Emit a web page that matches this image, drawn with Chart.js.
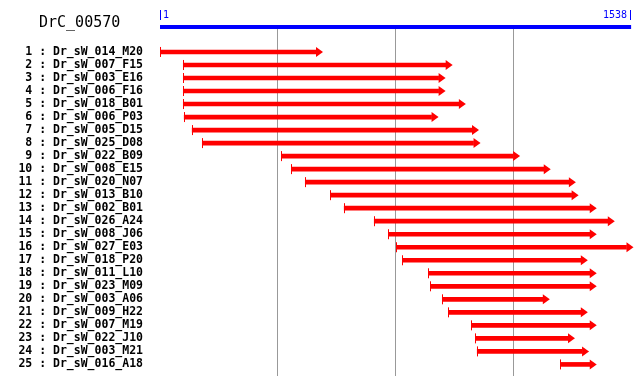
<!DOCTYPE html>
<html>
<head>
<meta charset="utf-8">
<title>DrC_00570</title>
<script src="https://cdn.jsdelivr.net/npm/chart.js@4/dist/chart.umd.min.js"></script>
<style>
  body { margin: 0; background: #fff; }
  canvas { display: block; }
</style>
</head>
<body>
<canvas id="chart" width="640" height="385"></canvas>
<script>
// clone alignments on DrC_00570 (start / end position of each hit)
const title = "DrC_00570";
const rulerStart = 1;
const rulerEnd = 1538;

const clones = [
  "Dr_sW_014_M20", "Dr_sW_007_F15", "Dr_sW_003_E16", "Dr_sW_006_F16", "Dr_sW_018_B01",
  "Dr_sW_006_P03", "Dr_sW_005_D15", "Dr_sW_025_D08", "Dr_sW_022_B09", "Dr_sW_008_E15",
  "Dr_sW_020_N07", "Dr_sW_013_B10", "Dr_sW_002_B01", "Dr_sW_026_A24", "Dr_sW_008_J06",
  "Dr_sW_027_E03", "Dr_sW_018_P20", "Dr_sW_011_L10", "Dr_sW_023_M09", "Dr_sW_003_A06",
  "Dr_sW_009_H22", "Dr_sW_007_M19", "Dr_sW_022_J10", "Dr_sW_003_M21", "Dr_sW_016_A18"
];
const starts = [1, 77, 77, 77, 77, 80, 106, 139, 397, 430, 475, 557, 602, 700, 746,
  774, 792, 877, 883, 922, 942, 1017, 1030, 1036, 1307];
const ends = [510, 933, 910, 910, 976, 887, 1019, 1024, 1153, 1253, 1335, 1344, 1403, 1462, 1403,
  1523, 1374, 1403, 1403, 1250, 1374, 1403, 1332, 1378, 1403];

const labels = clones.map((c, i) => (i + 1) + " : " + c);
const gridTicks = [1, 2, 3].map(k => rulerStart + (rulerEnd - rulerStart) * k / 4);

const decorations = {
  id: "decorations",
  afterDatasetsDraw(chart) {
    const ctx = chart.ctx;
    const xs = chart.scales.x;
    ctx.save();

    // arrows: start tick and arrow head on each bar
    ctx.fillStyle = "#ff0000";
    chart.getDatasetMeta(0).data.forEach(bar => {
      const p = bar.getProps(["x", "y", "base"], true);
      ctx.fillRect(Math.floor(p.base), p.y - 5, 1, 10);
      ctx.beginPath();
      ctx.moveTo(p.x, p.y - 5);
      ctx.lineTo(p.x + 7, p.y);
      ctx.lineTo(p.x, p.y + 5);
      ctx.closePath();
      ctx.fill();
    });

    // ruler
    const x0 = xs.getPixelForValue(rulerStart);
    const x1 = xs.getPixelForValue(rulerEnd);
    ctx.fillStyle = "#0000ff";
    ctx.fillRect(x0, 25, x1 - x0, 4);
    ctx.fillRect(Math.floor(x0), 10, 1, 10);
    ctx.fillRect(Math.floor(x1) - 1, 10, 1, 10);
    ctx.font = "10px 'DejaVu Sans Mono'";
    ctx.textBaseline = "middle";
    ctx.textAlign = "left";
    ctx.fillText(String(rulerStart), x0 + 3, 15);
    ctx.textAlign = "right";
    ctx.fillText(String(rulerEnd), x1 - 4, 15);

    // title
    ctx.fillStyle = "#000";
    ctx.font = "15px 'DejaVu Sans Mono'";
    ctx.textAlign = "left";
    ctx.fillText(title, 39, 23);
    ctx.restore();
  }
};

new Chart(document.getElementById("chart"), {
  type: "bar",
  data: {
    datasets: [{
      data: starts.map((s, i) => ({ y: i + 1, x: [s, ends[i]] })),
      backgroundColor: "#ff0000",
      borderWidth: 0,
      barThickness: 4
    }]
  },
  options: {
    indexAxis: "y",
    responsive: false,
    animation: false,
    layout: { padding: { top: 28, bottom: 9, left: 0, right: 0 } },
    plugins: { legend: { display: false }, tooltip: { enabled: false } },
    scales: {
      x: {
        type: "linear",
        min: 1,
        max: 1567,
        afterBuildTicks: s => { s.ticks = gridTicks.map(v => ({ value: v })); },
        afterFit: s => { s.height = 0; s.paddingLeft = 0; s.paddingRight = 0; },
        ticks: { display: false },
        grid: { color: "#999999", lineWidth: 1, drawTicks: false },
        border: { display: false }
      },
      y: {
        type: "linear",
        reverse: true,
        offset: false,
        min: -0.84,
        max: 25.89,
        afterBuildTicks: s => { s.ticks = labels.map((_, i) => ({ value: i + 1 })); },
        afterFit: s => { s.width = 160; s.paddingTop = 0; s.paddingBottom = 0; },
        ticks: {
          autoSkip: false,
          padding: 17,
          color: "#000",
          font: { family: "'DejaVu Sans Mono'", size: 11.5, weight: "bold" },
          callback: v => labels[v - 1]
        },
        grid: { display: false, drawTicks: false, offset: false },
        border: { display: false }
      }
    }
  },
  plugins: [decorations]
});
</script>
</body>
</html>
